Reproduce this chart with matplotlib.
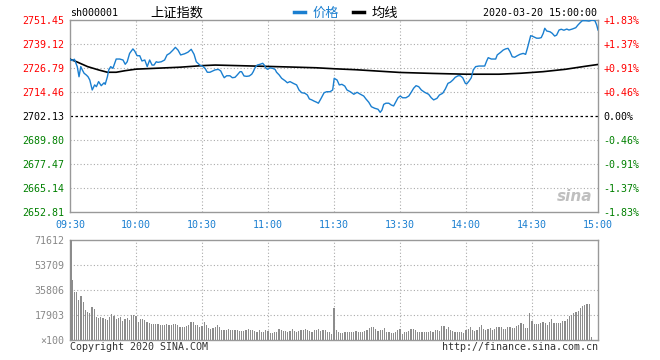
import matplotlib.pyplot as plt
from matplotlib.lines import Line2D
import numpy as np

# ---- data ----
prev_close = 2702.13
price_ticks = [2652.81, 2665.14, 2677.47, 2689.80, 2702.13, 2714.46, 2726.79, 2739.12, 2751.45]
time_ticks = [0, 30, 60, 90, 120, 150, 180, 210, 240]
time_labels = ['09:30', '10:00', '10:30', '11:00', '11:30', '13:30', '14:00', '14:30', '15:00']

price_min = [0, 1, 2, 3.3, 4.1, 4.9, 5.6, 6.4, 7.4, 8.2, 9.0, 10.1, 11.2, 12.0, 13.0, 14.2, 15.5, 16.0,
             17.0, 17.6, 18.5, 19.5, 20.3, 21.0, 22.6, 24.1, 25.1, 26.0, 27.1, 28.6, 29.4, 30.5, 31.7,
             32.7, 34.0, 35.1, 36.2, 37.3, 38.2, 39.2, 40.0, 41.5, 43.0, 44.1, 45.3, 46.8, 47.9, 49.1,
             50.3, 52.1, 53.6, 55.1, 56.4, 57.4, 59.0, 60.4, 61.4, 62.4, 63.6, 64.9, 65.9, 67.4, 68.5,
             69.4, 70.1, 71.2, 72.7, 73.8, 75.0, 76.0, 77.3, 78.0, 79.1, 80.3, 81.5, 82.6, 83.3, 84.1,
             85.1, 86.4, 87.6, 88.3, 89.1, 89.9, 90.9, 92.1, 93.2, 93.9, 95.1, 96.2, 97.7, 98.8, 100.0,
             101.5, 103.0, 104.1, 105.3, 106.8, 107.9, 108.8, 109.9, 110.9, 112.1, 112.9, 114.0, 115.5,
             116.7, 118.2, 119.4, 120.1, 121.4, 122.4, 123.6, 124.9, 125.9, 127.4, 129.0, 130.5, 132.0,
             133.5, 134.5, 135.8, 137.0, 138.5, 140.0, 141.0, 141.8, 142.6, 143.6, 144.9, 146.0, 147.1,
             147.9, 149.1, 150.1, 151.2, 152.7, 154.0, 155.1, 156.2, 157.3, 158.5, 159.7, 161.2, 163.0,
             164.2, 165.3, 166.8, 167.9, 169.4, 170.6, 171.8, 172.9, 174.0, 175.1, 176.4, 177.4, 178.5,
             179.7, 180.3, 181.4, 182.4, 183.3, 184.4, 185.9, 187.4, 188.5, 189.4, 190.1, 191.5, 193.5,
             194.2, 195.8, 196.9, 198.0, 199.1, 200.0, 201.0, 202.1, 203.3, 204.5, 206.0, 207.1, 207.9,
             208.6, 209.4, 210.6, 212.1, 213.2, 214.2, 215.1, 215.8, 216.7, 218.2, 219.2, 220.3, 221.2,
             222.3, 223.3, 224.5, 225.8, 226.8, 228.3, 229.9, 230.9, 232.1, 232.9, 234.4, 235.9, 237.4,
             238.6, 239.4, 240.0]
price_val = [2731.3, 2730.6, 2731.3, 2727.5, 2722.3, 2727.5, 2725.8, 2724.1, 2723.2, 2722.3, 2720.6,
             2715.5, 2718.1, 2717.2, 2719.8, 2717.7, 2719.2, 2718.4, 2722.3, 2725.8, 2727.5, 2726.6,
             2729.2, 2731.4, 2731.4, 2730.9, 2728.7, 2730.0, 2734.3, 2736.6, 2735.5, 2733.1, 2733.1,
             2730.4, 2730.9, 2727.5, 2730.9, 2728.3, 2728.3, 2730.0, 2729.7, 2730.0, 2730.9, 2733.5,
             2734.3, 2736.0, 2737.4, 2736.0, 2733.5, 2734.1, 2734.9, 2736.4, 2733.8, 2730.0, 2728.3,
             2727.6, 2726.6, 2724.6, 2724.6, 2725.3, 2725.8, 2726.1, 2725.3, 2723.2, 2721.8, 2722.8,
             2722.8, 2721.8, 2722.0, 2723.2, 2724.9, 2724.9, 2722.7, 2722.5, 2722.7, 2723.6, 2724.9,
             2726.9, 2728.3, 2728.7, 2729.2, 2728.3, 2726.6, 2726.1, 2726.9, 2726.6, 2726.1, 2724.6,
             2723.2, 2721.5, 2720.3, 2719.2, 2719.8, 2718.9, 2718.1, 2715.5, 2714.1, 2713.8, 2712.9,
             2710.9, 2710.4, 2709.8, 2709.2, 2708.7, 2710.9, 2714.1, 2714.6, 2714.6, 2715.5, 2721.5,
             2720.6, 2718.1, 2718.4, 2717.5, 2715.5, 2714.6, 2713.3, 2714.3, 2713.3, 2712.4, 2710.9,
             2709.2, 2706.9, 2706.1, 2705.6, 2704.0, 2705.2, 2708.1, 2708.7, 2708.7, 2707.8, 2707.3,
             2709.0, 2711.5, 2712.4, 2711.5, 2711.5, 2712.4, 2714.3, 2716.4, 2717.7, 2717.2, 2715.5,
             2714.3, 2713.3, 2711.5, 2710.4, 2711.2, 2712.9, 2713.8, 2716.0, 2718.9, 2719.5, 2720.6,
             2722.0, 2722.8, 2722.8, 2721.8, 2718.9, 2718.6, 2720.1, 2721.8, 2725.8, 2727.5, 2727.8,
             2727.8, 2727.8, 2730.4, 2732.1, 2731.4, 2731.4, 2733.5, 2734.9, 2736.0, 2736.6, 2736.9,
             2735.2, 2732.6, 2732.3, 2733.1, 2733.8, 2734.3, 2733.8, 2736.9, 2740.0, 2743.4, 2742.9,
             2742.1, 2742.1, 2742.4, 2744.6, 2747.2, 2745.8, 2745.4, 2744.6, 2743.2, 2743.7, 2746.3,
             2746.7, 2746.2, 2746.8, 2746.3, 2746.8, 2747.5, 2748.9, 2750.3, 2751.1, 2751.1, 2750.9,
             2751.4, 2751.1, 2748.9, 2746.3]

avg_min = [0, 3, 8, 13, 17, 21, 25, 30, 40, 50, 60, 66, 80, 100, 112, 120, 130, 140, 150, 165, 180,
           195, 205, 215, 225, 235, 240]
avg_val = [2731.3, 2730.0, 2727.5, 2725.8, 2724.6, 2724.6, 2725.4, 2726.2, 2726.7, 2727.2, 2728.0,
           2728.3, 2727.9, 2727.3, 2726.9, 2726.4, 2725.9, 2725.2, 2724.5, 2724.0, 2723.6, 2723.6,
           2724.1, 2724.9, 2726.1, 2727.8, 2728.6]

vol_max = 71612
vol_ticks = [0, 17903, 35806, 53709, 71612]
vol_labels = ['\u00d7100', '17903', '35806', '53709', '71612']
volume = ([71612]
          + [42960, 34370, 34370, 28640, 31500, 27420, 21480, 20280, 19570, 23870, 21960, 16700,
             16000, 16700, 15750, 15040]
          + [14560, 16700, 18430, 17200, 15040, 15750, 16460, 13370, 15040, 16000, 14560, 18000,
             18000, 17200]
          + [13000, 15000, 15000, 14000, 13000, 12000, 11500, 11500, 11500, 11500, 11000, 10500,
             11000, 11500, 10500, 11000, 11500, 11500, 10500, 9500, 9000, 9500, 10000, 11000, 13000,
             13000, 10500, 11000, 9500, 10000]
          + [13000, 10500, 8500, 8000, 8500, 9500, 11000, 9000, 7500, 7000, 7500, 8000, 7000, 7500,
             7000, 7000, 6500, 6500, 6500, 7000, 8000, 7500, 7000, 6500, 6000, 7000, 6000, 5500,
             7000, 6500]
          + [5000, 5000, 5500, 6000, 8000, 7000, 6500, 6500, 6000, 6500, 8000, 6500, 6000, 6500,
             7500, 7500, 8000, 7000, 6500, 6000, 7000, 7500, 8000, 6500, 7000, 7500, 6000, 5500, 4000]
          + [22700, 7000, 5500, 5000, 5000, 5500, 6000, 5500, 6000, 6000, 6500, 6000, 6000, 5500,
             6500, 7500, 8500, 9500, 9500, 8000, 6500, 7500, 7500, 8500, 6000, 5500, 5000, 5000,
             6000, 7000, 8000]
          + [4500, 6000, 6000, 6500, 8000, 8000, 7500, 6000, 6000, 6000, 6000, 6000, 6000, 6500,
             6000, 7000, 7000, 6500, 10000, 10000, 8000, 9500, 7500, 6500, 6000, 6000, 5500, 6000,
             5000, 7000]
          + [8000, 9000, 7000, 6500, 7500, 9500, 11000, 8000, 7500, 8000, 8500, 7500, 8000, 9000,
             9500, 9000, 8000, 8000, 9000, 9000, 8500, 8500, 10000, 11000, 12000, 11500, 8500, 8500,
             19000]
          + [13800, 11500, 11500, 11500, 12500, 13000, 12000, 11000, 13000, 15000, 12000, 12000,
             12000, 12000, 13500, 13500, 15000, 17000, 18000, 19000, 20000, 21000, 23000, 24000,
             25000, 25500, 26000]
          + [2000, 0, 0, 0])

BLUE = '#1a7fd0'
GRID = '#aaaaaa'
SPINE = '#999999'
MONO = 'DejaVu Sans Mono'
CJK = ['Noto Sans CJK SC', 'DejaVu Sans']

plt.rcParams['font.family'] = [MONO, 'DejaVu Sans']
plt.rcParams['font.size'] = 7.2

fig = plt.figure(figsize=(6.6, 3.6), dpi=100)
W, H = 660.0, 360.0

# ---- price panel ----
ax = fig.add_axes([70 / W, 1 - 212 / H, 528 / W, 192 / H])
ax.set_xlim(0, 240)
ax.set_ylim(price_ticks[0], price_ticks[-1])
for s in ax.spines.values():
    s.set_color(SPINE)
    s.set_linewidth(1)

for t in time_ticks[1:-1]:
    ax.axvline(t, color=GRID, lw=0.8, ls=(0, (1, 2)), zorder=1)
for p in price_ticks[1:-1]:
    if abs(p - prev_close) < 1e-6:
        ax.axhline(p, color='black', lw=0.9, ls=(0, (2, 2)), zorder=1)
    else:
        ax.axhline(p, color=GRID, lw=0.8, ls=(0, (1, 2)), zorder=1)

ax.plot(avg_min, avg_val, color='black', lw=1.2, zorder=3)
ax.plot(price_min, price_val, color=BLUE, lw=1.0, zorder=4)

ax.set_xticks(time_ticks)
ax.set_xticklabels(time_labels, color=BLUE)
ax.set_yticks(price_ticks)
ax.set_yticklabels(['%.2f' % p for p in price_ticks])
ax.tick_params(length=0, labelsize=7.2)
ax.tick_params(axis='y', pad=4)
ax.tick_params(axis='x', pad=6)


def level_color(p):
    if p > prev_close + 1e-6:
        return 'red'
    if p < prev_close - 1e-6:
        return 'green'
    return 'black'


for lab, p in zip(ax.get_yticklabels(), price_ticks):
    lab.set_color(level_color(p))

ax2 = ax.twinx()
ax2.set_ylim(ax.get_ylim())
ax2.set_yticks(price_ticks)
pct_labels = []
for p in price_ticks:
    pct = (p - prev_close) / prev_close * 100
    pct_labels.append('%+.2f%%' % pct if abs(pct) > 1e-6 else '0.00%')
ax2.set_yticklabels(pct_labels)
ax2.tick_params(length=0, labelsize=7.2, pad=4)
for lab, p in zip(ax2.get_yticklabels(), price_ticks):
    lab.set_color(level_color(p))
for s in ax2.spines.values():
    s.set_visible(False)

# watermark
ax.text(0.955, 0.08, 'sina', transform=ax.transAxes, ha='center', va='center',
        fontsize=11, fontweight='bold', fontstyle='italic', color='#b0b0b0',
        family='DejaVu Sans', alpha=0.8, zorder=2)

# ---- volume panel ----
axv = fig.add_axes([70 / W, 1 - 340 / H, 528 / W, 100 / H])
axv.set_xlim(0, 240)
axv.set_ylim(0, vol_max)
for s in axv.spines.values():
    s.set_color(SPINE)
    s.set_linewidth(1)
for t in time_ticks[1:-1]:
    axv.axvline(t, color=GRID, lw=0.8, ls=(0, (1, 2)), zorder=1)
for v in vol_ticks[1:-1]:
    axv.axhline(v, color=GRID, lw=0.8, ls=(0, (1, 2)), zorder=1)
bars = axv.bar(np.arange(len(volume)), volume, width=0.5, color='#8c8c8c',
               linewidth=0, zorder=3, antialiased=False)
bars[0].set_width(1.0)
axv.set_xticks([])
axv.set_yticks(vol_ticks)
axv.set_yticklabels(vol_labels, color='#888888')
axv.tick_params(length=0, labelsize=7.2, pad=4)

# ---- header / footer text ----
fig.text(70 / W, 1 - 13 / H, 'sh000001', ha='left', va='center', fontsize=7.2)
fig.text(150 / W, 1 - 13 / H, '上证指数', ha='left', va='center', fontsize=9.5, family=CJK)
fig.text(597 / W, 1 - 13 / H, '2020-03-20 15:00:00', ha='right', va='center', fontsize=7.2)

handles = [Line2D([], [], color=BLUE, lw=2.5), Line2D([], [], color='black', lw=2.5)]
leg = fig.legend(handles, ['价格', '均线'], loc='center left',
                 bbox_to_anchor=(294 / W, 1 - 13 / H), ncol=2, frameon=False,
                 prop={'family': CJK, 'size': 9.5}, handlelength=0.8, handletextpad=0.6,
                 columnspacing=1.1, borderpad=0, borderaxespad=0)
leg.get_texts()[0].set_color(BLUE)

fig.text(70 / W, 1 - 347 / H, 'Copyright 2020 SINA.COM', ha='left', va='center',
         fontsize=7.2, color='#333333')
fig.text(598 / W, 1 - 347 / H, 'http://finance.sina.com.cn', ha='right', va='center',
         fontsize=7.2, color='#333333')

fig.savefig('out.png', dpi=100)
